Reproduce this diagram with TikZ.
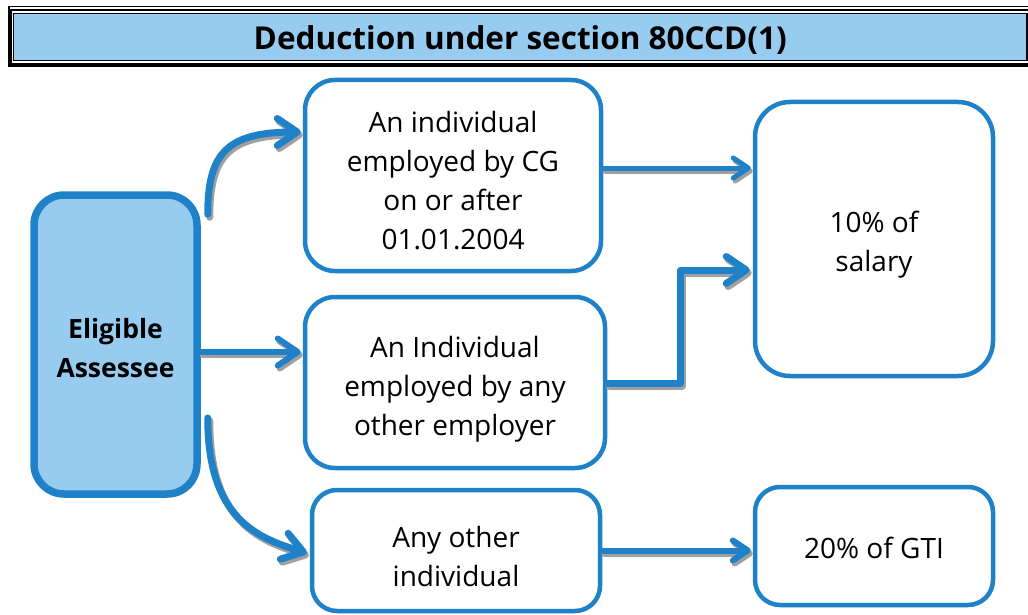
\documentclass[tikz,border=0pt]{standalone}
\usepackage{fontspec}
\setmainfont{Open Sans}
\usetikzlibrary{arrows.meta,calc,shadows}
\definecolor{lineblue}{RGB}{31,130,201}
\definecolor{lightblue}{RGB}{151,203,239}
\definecolor{shadowgrey}{RGB}{160,160,160}
\newcommand\sconn[2]{\draw[connshadow,#1] #2; \draw[conn,#1] #2;}
\begin{document}
\begin{tikzpicture}[x=1pt,y=-1pt,
  box/.style={draw=lineblue, line width=4.5pt, fill=white, rounded corners=28pt, inner sep=0pt},
  boxtext/.style={align=center, inner sep=0pt, font=\fontsize{28}{39}\selectfont},
  conn/.style={draw=lineblue, line cap=round, line join=round},
  connshadow/.style={draw=shadowgrey, line cap=round, line join=round, transform canvas={shift={(2pt,-3pt)}}},
  bigtip/.style={-{Straight Barb[length=20pt,width=27pt,round]}},
  smalltip/.style={-{Straight Barb[length=15pt,width=20pt,round]}},
]
\useasboundingbox (0,0) rectangle (1028,615);
\clip (0,0) rectangle (1028,615);
% title bar
\fill[black] (8,6) rectangle (1040,67);
\draw[white, line width=1.6pt] (10,8.3) -- (1040,8.3);
\fill[white] (12,11.2) rectangle (1040,62.7);
\node[draw=black, line width=1.2pt, fill=lightblue, minimum width=1013.4pt, minimum height=47.3pt, inner sep=0pt,
  label={[inner sep=0pt, yshift=-3pt, font=\bfseries\fontsize{31.5}{36}\selectfont]center:Deduction under section 80CCD(1)}] (title) at (520.3,36.85) {};
% nodes
\node[box, fill=lightblue, line width=7.5pt, rounded corners=30pt, minimum width=163pt, minimum height=299pt,
  drop shadow={shadow xshift=2.5pt, shadow yshift=-3pt, fill=shadowgrey, opacity=1},
  label={[boxtext, yshift=-3.5pt, font=\bfseries\fontsize{26.5}{39}\selectfont]center:{Eligible\\Assessee}}] (elig) at (115.5,344.5) {};
\node[box, minimum width=296pt, minimum height=191pt, rounded corners=30pt,
  label={[boxtext, yshift=-5pt]center:{An individual\\employed by CG\\on or after\\01.01.2004}}] (boxA) at (453,175.5) {};
\node[box, minimum width=300pt, minimum height=171pt, rounded corners=30pt,
  label={[boxtext, yshift=-7pt]center:{An Individual\\employed by any\\other employer}}] (boxB) at (455,382.5) {};
\node[box, minimum width=288pt, minimum height=121pt, rounded corners=25pt,
  label={[boxtext, yshift=-5.5pt]center:{Any other\\individual}}] (boxC) at (456,550.5) {};
\node[box, minimum width=238pt, minimum height=274pt, rounded corners=35pt,
  label={[boxtext, yshift=-6pt]center:{10\% of\\salary}}] (boxD) at (874,239) {};
\node[box, minimum width=238pt, minimum height=118pt, rounded corners=25pt,
  label={[boxtext, yshift=-1.5pt]center:{20\% of GTI}}] (boxE) at (874,546) {};
% connectors
\coordinate (a1s) at ($(elig.north east)+(7,23)$);
\coordinate (a1e) at ($(boxA.west)+(-2,-43.5)$);
\sconn{line width=7pt, bigtip}{(a1s) .. controls +(0,-60) and +(-75,0) .. (a1e)}
\coordinate (a2s) at ($(elig.east)+(0,7.5)$);
\coordinate (a2e) at ($(a2s -| boxB.west)+(-2,0)$);
\sconn{line width=6pt, bigtip}{(a2s) -- (a2e)}
\coordinate (a3s) at ($(elig.east)+(7,73.5)$);
\coordinate (a3e) at ($(boxC.west)+(-3,2.5)$);
\sconn{line width=7pt, bigtip}{(a3s) .. controls +(0,100) and +(-50,-15) .. (a3e)}
\coordinate (a4s) at ($(boxA.east)+(0,-7.5)$);
\coordinate (a4e) at ($(a4s -| boxD.west)+(-2,0)$);
\sconn{line width=5pt, smalltip}{(a4s) -- (a4e)}
\coordinate (a5s) at ($(boxB.east)+(0,0.5)$);
\coordinate (a5e) at ($(boxD.west)+(-3,31)$);
\sconn{line width=7pt, bigtip}{(a5s) -- ++(73,0) |- (a5e)}
\coordinate (a6e) at ($(boxC.east -| boxE.west)+(-2,0)$);
\sconn{line width=6pt, smalltip}{(boxC.east) -- (a6e)}
\end{tikzpicture}
\end{document}
